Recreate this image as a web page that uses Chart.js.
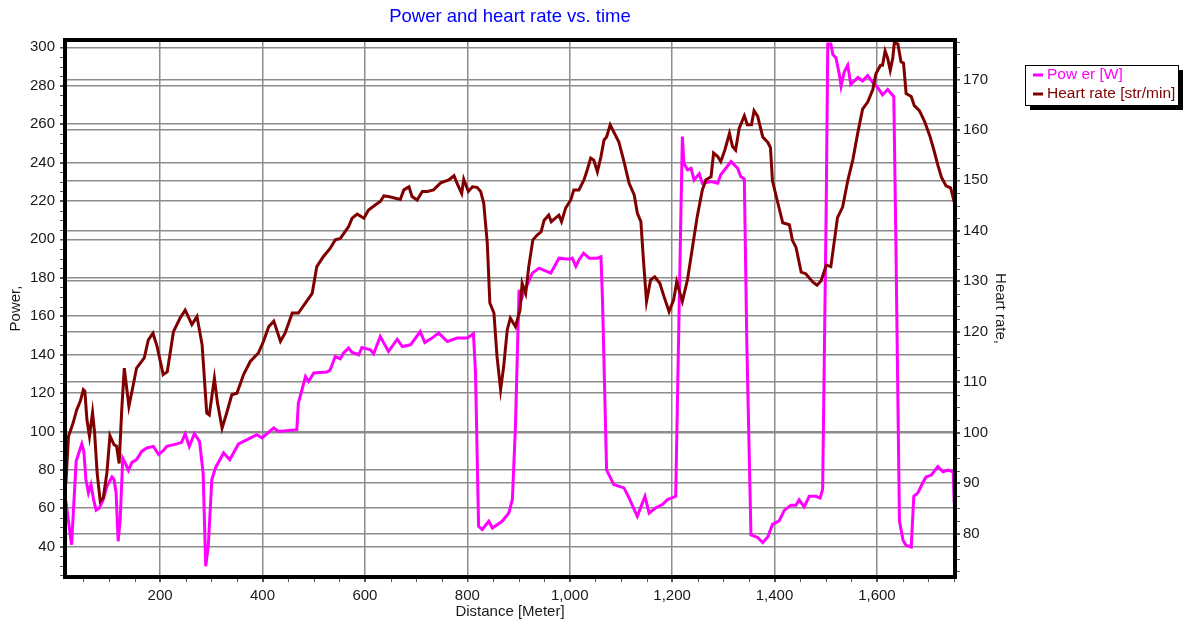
<!DOCTYPE html>
<html>
<head>
<meta charset="utf-8">
<title>Power and heart rate vs. time</title>
<script src="https://cdn.jsdelivr.net/npm/chart.js@4"></script>
<style>
	html, body { margin: 0; padding: 0; background: #fff; }
	#wrap { width: 1184px; height: 622px; }
</style>
</head>
<body>
<div id="wrap"><canvas id="chart" width="1184" height="622"></canvas></div>
<script>
// values
const powerDistance = [16, 27, 36, 47, 51, 55, 60, 65, 70, 75, 81, 89, 96, 106, 110, 114, 118, 122, 127, 132, 138, 145, 154, 164, 174, 187, 197, 206, 213, 233, 242, 249, 257, 267, 277, 284, 289, 294, 301, 308, 324, 336, 353, 370, 389, 399, 422, 431, 467, 470, 477, 484, 490, 500, 526, 532, 542, 552, 558, 568, 575, 588, 594, 611, 617, 630, 646, 663, 673, 689, 708, 717, 731, 744, 761, 780, 800, 812, 816, 822, 829, 842, 849, 868, 881, 888, 894, 901, 904, 911, 917, 927, 940, 963, 979, 999, 1005, 1012, 1018, 1027, 1038, 1054, 1061, 1064, 1072, 1086, 1106, 1116, 1132, 1142, 1147, 1155, 1168, 1181, 1191, 1207, 1214, 1220, 1223, 1230, 1237, 1243, 1253, 1259, 1276, 1289, 1295, 1315, 1328, 1334, 1341, 1346, 1354, 1367, 1377, 1387, 1396, 1409, 1419, 1432, 1442, 1448, 1458, 1468, 1481, 1489, 1494, 1501, 1504, 1510, 1514, 1520, 1527, 1530, 1536, 1543, 1549, 1563, 1572, 1582, 1592, 1602, 1611, 1621, 1633, 1637, 1644, 1651, 1657, 1667, 1672, 1680, 1690, 1696, 1706, 1719, 1729, 1739, 1749, 1751];
const powerWatts = [63.5, 41, 84.4, 93.5, 89.6, 75, 68, 72.3, 64.5, 59, 60, 64.5, 71.4, 76.3, 75, 68, 42.8, 54, 86, 83.5, 79.7, 83.9, 85.3, 89.6, 91.4, 92.2, 88, 90, 92.2, 93.5, 94.3, 98.8, 92.2, 98.8, 94.8, 78.2, 29.8, 40.2, 75, 81, 88.8, 85.3, 93.5, 95.7, 98.3, 96.6, 101.8, 100, 100.9, 114.8, 121.7, 128.6, 126, 130.4, 130.9, 132, 139, 137.8, 140.8, 143.4, 141.1, 139.9, 143.7, 142.5, 140.4, 149.4, 141.6, 148, 144.2, 145.1, 152, 146.3, 148.6, 151.2, 146.8, 148.6, 148.6, 150.8, 130.4, 50.6, 48.9, 53.2, 49.7, 53.2, 57.5, 64.5, 102.6, 173.7, 167.6, 172.8, 176.3, 182.4, 185, 182.4, 190.2, 189.7, 190.2, 185.9, 189.3, 192.8, 190.2, 190.2, 191, 168.5, 80, 72.3, 70.6, 65.3, 55.8, 62.8, 66.2, 57.5, 60.2, 61.9, 64.5, 66.2, 168.5, 253.5, 239.6, 236.2, 237, 230.9, 234.1, 229.2, 230.1, 229.2, 233.6, 240.5, 237, 232.7, 231.4, 144.7, 46.1, 44.8, 42.1, 45.2, 51.6, 53.4, 58.9, 61.6, 61.6, 64.4, 60.7, 66.2, 66.2, 65.3, 69.9, 217.7, 301.7, 301.7, 296.2, 294.4, 285.3, 279.8, 287.1, 290.7, 280.7, 284.3, 282.5, 285.3, 281.6, 278.9, 275.2, 278, 274.3, 199.5, 53.4, 43.4, 40.6, 39.8, 66.2, 68, 73.5, 76.3, 77.2, 81.7, 79, 79.9, 79, 62.5];

const hrDistance = [16, 21, 30, 37, 44, 50, 53, 57, 62, 68, 72, 77, 83, 89, 96, 102, 110, 115, 120, 125, 130, 139, 147, 154, 169, 177, 186, 194, 206, 214, 226, 239, 249, 255, 262, 272, 282, 291, 296, 306, 312, 321, 330, 340, 350, 363, 376, 392, 402, 412, 422, 435, 444, 458, 470, 484, 497, 506, 519, 532, 542, 552, 568, 575, 585, 598, 607, 620, 630, 637, 646, 669, 676, 686, 692, 702, 712, 722, 734, 748, 764, 774, 780, 789, 793, 802, 810, 819, 826, 832, 839, 844, 852, 858, 865, 871, 878, 884, 894, 903, 907, 914, 920, 928, 937, 944, 950, 959, 964, 972, 979, 984, 992, 1002, 1008, 1018, 1028, 1034, 1041, 1047, 1054, 1061, 1067, 1072, 1079, 1086, 1096, 1106, 1116, 1126, 1132, 1139, 1144, 1150, 1158, 1166, 1176, 1184, 1194, 1203, 1209, 1220, 1230, 1240, 1249, 1259, 1266, 1276, 1281, 1289, 1295, 1303, 1312, 1318, 1324, 1331, 1341, 1347, 1355, 1360, 1367, 1377, 1387, 1392, 1396, 1406, 1416, 1429, 1435, 1442, 1452, 1461, 1475, 1483, 1491, 1501, 1510, 1517, 1523, 1533, 1543, 1553, 1563, 1572, 1582, 1592, 1598, 1607, 1611, 1616, 1621, 1626, 1631, 1634, 1641, 1647, 1652, 1657, 1667, 1673, 1683, 1693, 1703, 1711, 1719, 1726, 1735, 1744, 1751];
const hrBpm = [90, 99.3, 101.9, 104.5, 106.2, 108.5, 108.2, 102.6, 99.3, 104, 100, 92, 86.4, 87.1, 92, 99.4, 97.6, 97.3, 93.9, 104.5, 112.8, 105.2, 109.2, 112.8, 114.8, 118.4, 119.7, 117.1, 111.5, 112.1, 120, 122.7, 124.3, 123, 121.4, 123, 117.4, 103.9, 103.5, 110.8, 105.9, 100.9, 103.9, 107.5, 107.8, 111.5, 114.1, 115.8, 118.1, 121, 122.1, 118.1, 119.7, 123.7, 123.7, 125.7, 127.6, 132.9, 134.9, 136.5, 138.2, 138.5, 140.8, 142.5, 143.3, 142.5, 144.1, 145.1, 145.8, 146.9, 146.8, 146.2, 148.1, 148.7, 146.8, 146.1, 147.8, 147.8, 148.1, 149.5, 150.1, 150.9, 149.4, 147.4, 150.2, 147.8, 148.7, 148.6, 147.8, 145.5, 137.5, 125.7, 123.7, 115.1, 108.5, 113.1, 120.4, 122.7, 121, 124.3, 129.6, 127.6, 132.9, 138.2, 139.2, 139.8, 142.1, 143.1, 141.8, 142.5, 143.1, 141.8, 144.5, 146.1, 148.1, 148.1, 150.1, 152, 154.4, 154, 151.7, 154.7, 158, 158.6, 161, 159.6, 157.6, 153.7, 149.4, 147.1, 143.5, 141.8, 134.2, 126, 130.3, 130.9, 129.6, 127, 124, 126.3, 129.9, 126, 130.3, 136.9, 142.8, 148.1, 150.1, 150.7, 155.4, 154.7, 153.7, 156, 159.3, 156.7, 156, 160.3, 162.8, 161, 161, 163.8, 162.7, 158.6, 157.5, 156.5, 149.9, 145.7, 141.6, 141.2, 138.1, 136.7, 131.8, 131.5, 129.8, 129.2, 130.1, 133.2, 132.9, 138.1, 142.6, 144.7, 149.9, 154.1, 159.6, 164.1, 165.5, 168, 171.1, 172.8, 172.8, 175.6, 174.2, 171.8, 174.2, 177.3, 177, 173.5, 173.2, 167.2, 166.6, 164.8, 163.8, 161.7, 158.9, 156.1, 153, 150.6, 148.9, 148.5, 145.7];

const distanceTicks = [200, 400, 600, 800, 1000, 1200, 1400, 1600];
const powerTicks = [40, 60, 80, 100, 120, 140, 160, 180, 200, 220, 240, 260, 280, 300];
const hrTicks = [80, 90, 100, 110, 120, 130, 140, 150, 160, 170];

const POWER_COLOR = '#ff00ff';
const HR_COLOR = '#800000';
const TEXT_COLOR = '#1a1a1a';
const GRID_COLOR = '#8c8c8c';
const FONT = '"Liberation Sans", Arial, sans-serif';

Chart.defaults.font.family = FONT;
Chart.defaults.font.size = 15;
Chart.defaults.color = TEXT_COLOR;

function toPoints(xs, ys) {
	return xs.map(function (x, i) {
		return { x: x, y: ys[i] };
	});
}

function fixedTicks(list) {
	return function (scale) {
		scale.ticks = list.map(function (v) { return { value: v }; });
	};
}

// small ticks between the labelled ones, the thick frame and the legend box
const framePlugin = {
	id: 'frame',
	afterDatasetsDraw(chart) {
		const ctx = chart.ctx;
		const a = chart.chartArea;
		const sx = chart.scales.x;
		const sp = chart.scales.yPower;
		const sh = chart.scales.yHr;
		ctx.save();
		ctx.strokeStyle = '#555';
		ctx.lineWidth = 1;
		ctx.beginPath();
		for (let v = 50; v < sx.max; v += 50) {
			const px = Math.round(sx.getPixelForValue(v)) + 0.5;
			ctx.moveTo(px, a.bottom);
			ctx.lineTo(px, a.bottom + 5);
		}
		for (let v = 25; v <= sp.max; v += 5) {
			const py = Math.round(sp.getPixelForValue(v)) + 0.5;
			ctx.moveTo(a.left - 5, py);
			ctx.lineTo(a.left, py);
		}
		for (let v = 72.5; v <= sh.max; v += 2.5) {
			const py = Math.round(sh.getPixelForValue(v)) + 0.5;
			ctx.moveTo(a.right, py);
			ctx.lineTo(a.right + 5, py);
		}
		ctx.stroke();
		ctx.strokeStyle = '#000';
		ctx.lineWidth = 4;
		ctx.strokeRect(a.left, a.top, a.right - a.left, a.bottom - a.top);
		ctx.restore();
	},
	afterDraw(chart) {
		const ctx = chart.ctx;
		const bx = 1025, by = 65, bw = 153, bh = 40;
		ctx.save();
		ctx.fillStyle = '#000';
		ctx.fillRect(bx + 5, by + 5, bw, bh);
		ctx.fillStyle = '#fff';
		ctx.fillRect(bx, by, bw, bh);
		ctx.strokeStyle = '#000';
		ctx.lineWidth = 1;
		ctx.strokeRect(bx + 0.5, by + 0.5, bw, bh);
		const rows = [
			{ text: 'Pow er [W]', color: POWER_COLOR, y: 75 },
			{ text: 'Heart rate [str/min]', color: HR_COLOR, y: 94 }
		];
		ctx.font = '15.5px ' + FONT;
		ctx.textBaseline = 'middle';
		rows.forEach(function (r) {
			ctx.strokeStyle = r.color;
			ctx.lineWidth = 3;
			ctx.beginPath();
			ctx.moveTo(1033, r.y);
			ctx.lineTo(1043, r.y);
			ctx.stroke();
			ctx.fillStyle = r.color;
			ctx.fillText(r.text, 1047, r.y);
		});
		ctx.restore();
	}
};

new Chart(document.getElementById('chart'), {
	type: 'line',
	data: {
		datasets: [{
			label: 'Pow er [W]',
			data: toPoints(powerDistance, powerWatts),
			yAxisID: 'yPower',
			borderColor: POWER_COLOR,
			borderWidth: 3,
			pointRadius: 0,
			tension: 0,
			order: 2
		}, {
			label: 'Heart rate [str/min]',
			data: toPoints(hrDistance, hrBpm),
			yAxisID: 'yHr',
			borderColor: HR_COLOR,
			borderWidth: 3,
			pointRadius: 0,
			tension: 0,
			order: 1
		}]
	},
	options: {
		responsive: false,
		animation: false,
		layout: {
			padding: { left: 0, right: 169, top: 0, bottom: 0 }
		},
		plugins: {
			legend: { display: false },
			tooltip: { enabled: false },
			title: {
				display: true,
				text: 'Power and heart rate vs. time',
				color: '#0000ff',
				fullSize: false,
				font: { size: 18.5, weight: 'normal' },
				padding: { top: 6, bottom: 11.8 }
			}
		},
		scales: {
			x: {
				type: 'linear',
				min: 14.2,
				max: 1752.5,
				afterBuildTicks: fixedTicks(distanceTicks),
				afterFit: function (scale) { scale.height = 45; },
				grid: { color: GRID_COLOR, lineWidth: 1.5, tickLength: 5, tickColor: '#555' },
				border: { display: false },
				ticks: {
					padding: 5,
					maxRotation: 0,
					callback: function (v) { return v.toLocaleString('en-US'); }
				},
				title: { display: true, text: 'Distance [Meter]', padding: { top: 0, bottom: 1 } }
			},
			yPower: {
				type: 'linear',
				position: 'left',
				min: 24.2,
				max: 303.8,
				afterBuildTicks: fixedTicks(powerTicks),
				afterFit: function (scale) { scale.width = 65; },
				grid: { color: GRID_COLOR, lineWidth: 1.5, tickLength: 5, tickColor: '#555' },
				border: { display: false },
				ticks: { padding: 5 },
				title: { display: true, text: 'Power,', padding: { top: 7, bottom: 4 } }
			},
			yHr: {
				type: 'linear',
				position: 'right',
				min: 71.4,
				max: 177.8,
				afterBuildTicks: fixedTicks(hrTicks),
				afterFit: function (scale) { scale.width = 60; },
				grid: { color: GRID_COLOR, lineWidth: 1.5, tickLength: 5, tickColor: '#555' },
				border: { display: false },
				ticks: { padding: 3 },
				title: { display: true, text: 'Heart rate,', padding: { top: 6, bottom: 4 } }
			}
		}
	},
	plugins: [framePlugin]
});
</script>
</body>
</html>
